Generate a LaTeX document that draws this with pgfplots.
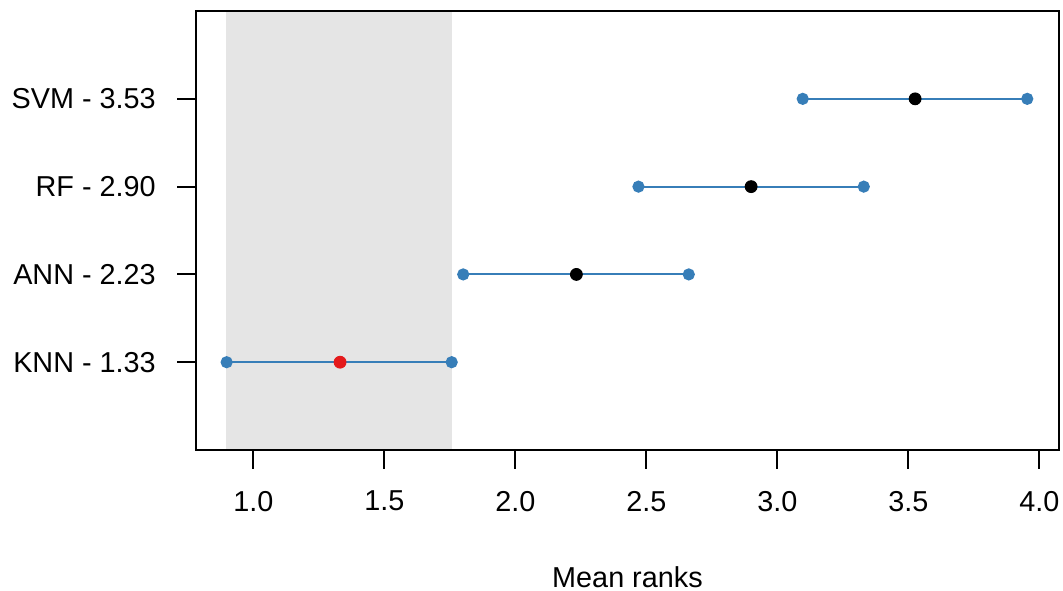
\documentclass[border=0pt]{standalone}
\usepackage{pgfplots}
\pgfplotsset{compat=1.18}
\usepackage{fontspec}
\setmainfont{Liberation Sans}
\definecolor{cdblue}{RGB}{55,126,184}
\definecolor{cdred}{RGB}{228,26,28}
\definecolor{shade}{RGB}{229,229,229}
\begin{document}
\fontsize{10.8bp}{13bp}\selectfont
\begin{tikzpicture}
\begin{axis}[
  scale only axis,
  width=323.6bp, height=164.6bp,
  xmin=0.781, xmax=4.075,
  ymin=0, ymax=5,
  axis line style={line width=0.75bp, black},
  every tick/.style={line width=0.75bp, black},
  tick align=outside,
  major tick length=7.1bp,
  xtick={1,1.5,2,2.5,3,3.5,4},
  xtick pos=bottom, ytick pos=left,
  xticklabel style={/pgf/number format/fixed, /pgf/number format/precision=1, /pgf/number format/fixed zerofill, inner sep=0pt, yshift=-8.1bp},
  /pgf/number format/assume math mode=true,
  ytick={1,2,3,4},
  yticklabels={KNN - 1.33, ANN - 2.23, RF - 2.90, SVM - 3.53},
  yticklabel style={inner sep=0pt, xshift=-7.8bp},
  tick label style={font=\fontsize{10.8bp}{13bp}\selectfont},
  xlabel={Mean ranks},
  xlabel style={at={(axis description cs:0.5,0)}, anchor=base, yshift=-51.75bp, font=\fontsize{10.8bp}{13bp}\selectfont},
  axis on top,
  clip=false,
]
% critical difference region
\addplot[fill=shade, draw=none] coordinates {(0.897,0.01) (1.757,0.01) (1.757,4.99) (0.897,4.99)} -- cycle;
% intervals
\addplot[cdblue, line width=0.75bp, mark=*, mark size=1.9bp, mark options={solid, fill=cdblue, draw=cdblue}] coordinates {(0.898,1) (1.757,1)};
\addplot[cdblue, line width=0.75bp, mark=*, mark size=1.9bp, mark options={solid, fill=cdblue, draw=cdblue}] coordinates {(1.801,2) (2.662,2)};
\addplot[cdblue, line width=0.75bp, mark=*, mark size=1.9bp, mark options={solid, fill=cdblue, draw=cdblue}] coordinates {(2.470,3) (3.330,3)};
\addplot[cdblue, line width=0.75bp, mark=*, mark size=1.9bp, mark options={solid, fill=cdblue, draw=cdblue}] coordinates {(3.097,4) (3.954,4)};
% means
\addplot[only marks, mark=*, mark size=2.2bp, mark options={fill=cdred, draw=cdred}] coordinates {(1.331,1)};
\addplot[only marks, mark=*, mark size=2.2bp, mark options={fill=black, draw=black}] coordinates {(2.233,2) (2.900,3) (3.526,4)};
\end{axis}
\pgfresetboundingbox
\path[use as bounding box] (-73.5bp,-52.875bp) rectangle (325.125bp,168.75bp);
\end{tikzpicture}
\end{document}
